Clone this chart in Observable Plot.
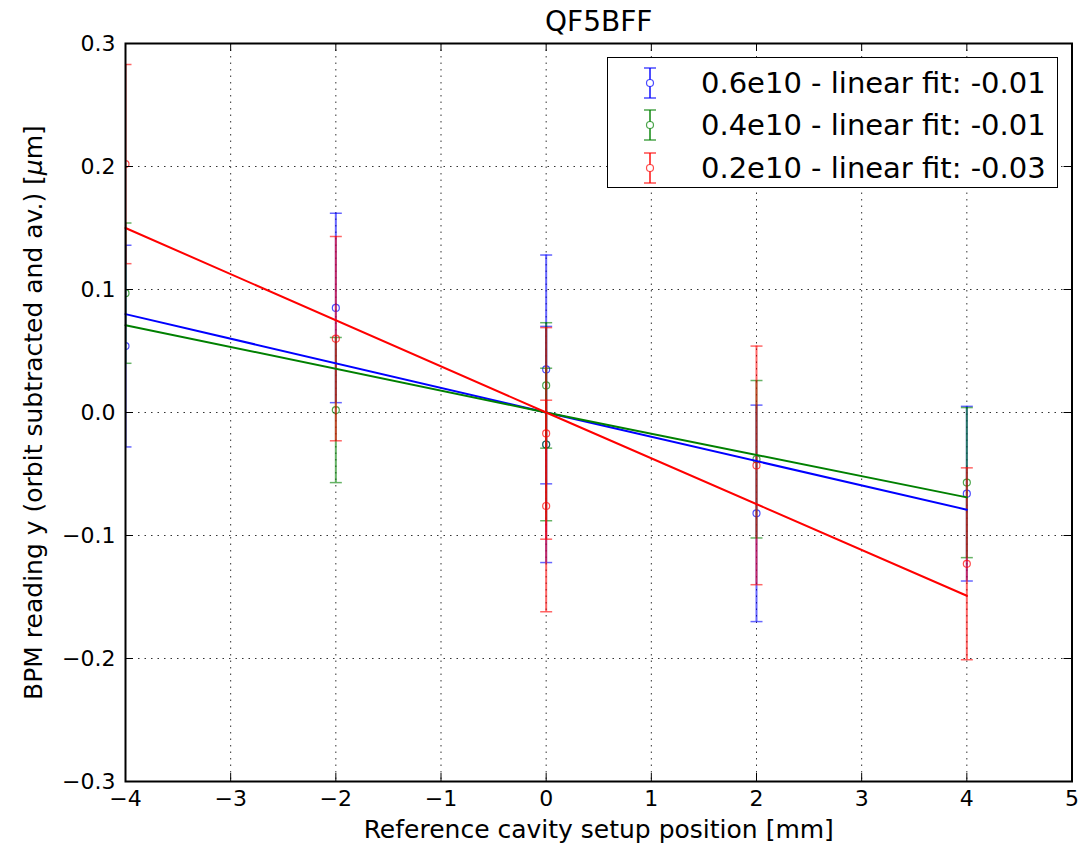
<!DOCTYPE html>
<html>
<head>
<meta charset="utf-8">
<script src="https://cdn.jsdelivr.net/npm/d3@7"></script>
<script src="https://cdn.jsdelivr.net/npm/@observablehq/plot@0.6"></script>
<style>
  body { margin: 0; background: #fff; }
  #wrap { position: relative; width: 1080px; height: 848px; font-family: "DejaVu Sans", sans-serif; }
  #legend { position: absolute; left: 607px; top: 57px; width: 449px; height: 129px; border: 1.5px solid #000; background: #fff; }
  .row { position: absolute; left: 0; height: 40px; width: 100%; }
  .row svg { position: absolute; left: 32px; top: 0; }
  .row span { position: absolute; left: 93px; top: 0; line-height: 40px; font-size: 29px; color: #000; white-space: nowrap; }
</style>
</head>
<body>
<div id="wrap"></div>
<script>
// ---- data ----
const title = "QF5BFF";
const xLabel = "Reference cavity setup position [mm]";
const yLabel = "BPM reading y (orbit subtracted and av.) [μm]";
const xTicks = [-4, -3, -2, -1, 0, 1, 2, 3, 4, 5];
const yTicks = [-0.3, -0.2, -0.1, 0.0, 0.1, 0.2, 0.3];

const seriesNames = ["0.6e10 - linear fit: -0.01", "0.4e10 - linear fit: -0.01", "0.2e10 - linear fit: -0.03"];
const seriesColors = ["#0000ff", "#008000", "#ff0000"];

const xPos = [-4, -2, 0, 0, 2, 4];
const blueY   = [0.054, 0.085, 0.035, -0.026, -0.082, -0.066];
const blueErr = [0.082, 0.077, 0.093, 0.096, 0.088, 0.071];
const greenY   = [0.097, 0.002, 0.022, -0.026, -0.038, -0.057];
const greenErr = [0.057, 0.059, 0.051, 0.062, 0.064, 0.061];
const redY   = [0.202, 0.060, -0.017, -0.076, -0.043, -0.123];
const redErr = [0.081, 0.083, 0.086, 0.086, 0.097, 0.078];

const fitX = [-4, 0, 4];
const blueFit  = [0.080, 0, -0.079];
const greenFit = [0.071, 0, -0.069];
const redFit   = [0.150, 0, -0.149];

// ---- build tables ----
const ys = [blueY, greenY, redY];
const errs = [blueErr, greenErr, redErr];
const fits = [blueFit, greenFit, redFit];
const points = [];
ys.forEach((arr, s) => arr.forEach((v, i) => points.push({s, x: xPos[i], y: v, e: errs[s][i]})));
const fitRows = [];
fits.forEach((arr, s) => arr.forEach((v, i) => fitRows.push({s, x: fitX[i], y: v})));

// ---- layout ----
const W = 1080, H = 848;
const mL = 125, mR = 8.5, mT = 43, mB = 67;
const frameW = W - mL - mR, frameH = H - mT - mB;
const tickLen = 8;

const capSymbol = { draw(ctx, size) { const r = Math.sqrt(size / Math.PI); ctx.moveTo(-r, 0); ctx.lineTo(r, 0); } };
const col = d => seriesColors[d.s];

const marks = [
  Plot.ruleX(xTicks, {x: d => d, stroke: "#000", strokeOpacity: 0.8, strokeWidth: 1, strokeDasharray: "1.5,5"}),
  Plot.ruleY(yTicks, {y: d => d, stroke: "#000", strokeOpacity: 0.8, strokeWidth: 1, strokeDasharray: "1.5,5"}),
];
[0, 1, 2].forEach(s => {
  const pts = points.filter(d => d.s === s);
  marks.push(
    Plot.ruleX(pts, {x: "x", y1: d => d.y - d.e, y2: d => d.y + d.e, stroke: col, strokeOpacity: 0.6, strokeWidth: 2, clip: true}),
    Plot.dot(pts, {x: "x", y: d => d.y + d.e, symbol: capSymbol, r: 6, stroke: col, strokeOpacity: 0.6, strokeWidth: 1.5, clip: true}),
    Plot.dot(pts, {x: "x", y: d => d.y - d.e, symbol: capSymbol, r: 6, stroke: col, strokeOpacity: 0.6, strokeWidth: 1.5, clip: true}),
    Plot.dot(pts, {x: "x", y: "y", r: 3.5, stroke: col, strokeOpacity: 0.7, fill: "none", strokeWidth: 1.2, clip: true})
  );
});
[0, 1, 2].forEach(s => {
  marks.push(Plot.line(fitRows.filter(d => d.s === s), {x: "x", y: "y", stroke: seriesColors[s], strokeWidth: 2}));
});
marks.push(
  Plot.tickX(xTicks, {x: d => d, insetBottom: frameH - tickLen, stroke: "#000", strokeWidth: 1}),
  Plot.tickX(xTicks, {x: d => d, insetTop: frameH - tickLen, stroke: "#000", strokeWidth: 1}),
  Plot.tickY(yTicks, {y: d => d, insetRight: frameW - tickLen, stroke: "#000", strokeWidth: 1}),
  Plot.tickY(yTicks, {y: d => d, insetLeft: frameW - tickLen, stroke: "#000", strokeWidth: 1}),
  Plot.frame({stroke: "#000", strokeWidth: 2}),
  Plot.text([title], {text: d => d, frameAnchor: "top", textAnchor: "middle", lineAnchor: "middle", dy: -21, fontSize: 28, fill: "#000"}),
  Plot.text([xLabel], {text: d => d, frameAnchor: "bottom", textAnchor: "middle", lineAnchor: "middle", dy: 48, fontSize: 25, fill: "#000"}),
  Plot.text([yLabel], {text: d => d, frameAnchor: "left", textAnchor: "middle", lineAnchor: "middle", dx: -92, rotate: -90, fontSize: 25, fill: "#000"})
);

const chart = Plot.plot({
  width: W, height: H,
  marginLeft: mL, marginRight: mR, marginTop: mT, marginBottom: mB,
  style: {fontFamily: "DejaVu Sans, sans-serif", fontSize: "22px", color: "#000", background: "#fff", overflow: "visible"},
  x: {domain: [-4, 5], ticks: xTicks, tickSize: 0, tickPadding: 9, tickFormat: d3.format("d"), label: null},
  y: {domain: [-0.3, 0.3], ticks: yTicks, tickSize: 0, tickPadding: 10, tickFormat: d3.format(".1f"), label: null},
  marks
});

const wrap = document.getElementById("wrap");
wrap.appendChild(chart);

// italic mu in y label (mathtext style)
d3.select(chart).selectAll("text").each(function() {
  const t = this.textContent;
  if (t === yLabel) {
    const i = t.indexOf("μ");
    const sel = d3.select(this);
    sel.text(null);
    sel.append("tspan").text(t.slice(0, i));
    sel.append("tspan").attr("font-style", "italic").text("μ");
    sel.append("tspan").text(t.slice(i + 1));
  }
});

// legend
const legend = document.createElement("div");
legend.id = "legend";
const rowTops = [4.7, 47, 89.7];
seriesNames.forEach((name, s) => {
  const row = document.createElement("div");
  row.className = "row";
  row.style.top = rowTops[s] + "px";
  const c = seriesColors[s];
  row.innerHTML =
    `<svg width="20" height="40" viewBox="-10 -20 20 40">` +
    `<g stroke="${c}" stroke-opacity="0.7" fill="none">` +
    `<line x1="0" y1="-15" x2="0" y2="15" stroke-width="2"/>` +
    `<line x1="-6" y1="-15" x2="6" y2="-15" stroke-width="1.5"/>` +
    `<line x1="-6" y1="15" x2="6" y2="15" stroke-width="1.5"/>` +
    `<circle cx="0" cy="0" r="3.5" fill="#fff" stroke-width="1.2"/></g></svg>` +
    `<span>${name}</span>`;
  legend.appendChild(row);
});
wrap.appendChild(legend);
</script>
</body>
</html>
